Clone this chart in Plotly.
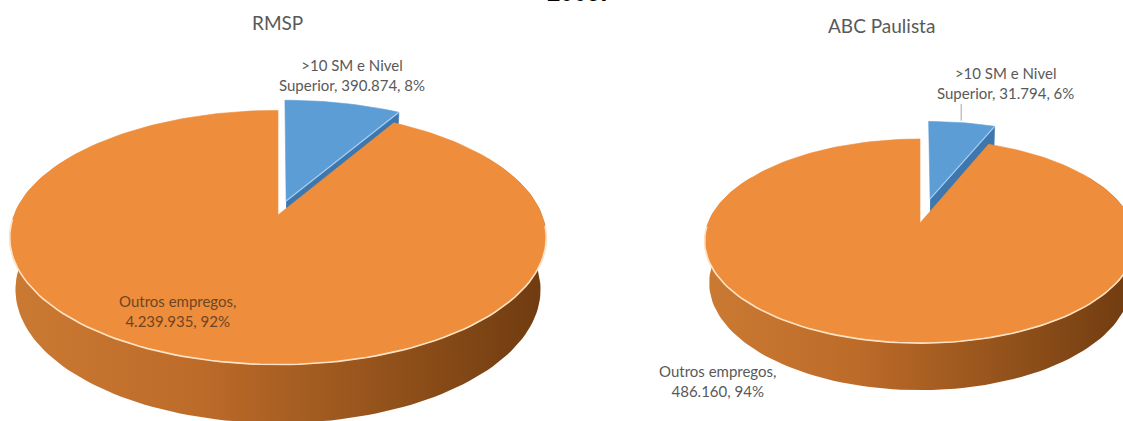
import textwrap
import numpy as np
import plotly.graph_objects as go

# ---- data -------------------------------------------------------------
categories = [">10 SM e Nivel Superior", "Outros empregos"]
rmsp_values = [390874, 4239935]
abc_values = [31794, 486160]
region_names = ["RMSP", "ABC Paulista"]
year_label = "2009."

# ---- styling ----------------------------------------------------------
W, H = 1123, 421
TOP_COLORS = ["#5D9DD6", "#EE8D3B"]
RADIAL_FACE = "#3D77AE"
SIDE_SCALE = [[0.0, "#CB7A33"], [0.35, "#BD6B29"], [0.7, "#93521B"], [1.0, "#6F3B10"]]
RIM_COLORS = ["#A8CFF3", "#FFE3C4"]
TEXT_GREY = "#595959"
INNER_TEXT = "#6E4524"

ALPHA = np.radians(27.8)   # viewing elevation
DIST = 5.0                 # camera distance (in pie radii)
DEPTH = 0.225              # pie thickness (in pie radii)

# pie placement: projected centre (px), pixel scale (radius), explode offset
PIES = [
    dict(cx=278, cy=215, k=264, explode=0.12),
    dict(cx=920, cy=223, k=212, explode=0.26),
]
TITLE_POS = [(277, 22), (881, 25)]
OUTER_LABEL_POS = [(352, 75), (1005, 83)]       # small slice labels
INNER_LABEL_POS = [(177, 311), (717, 381)]      # large slice labels
INNER_LABEL_COLOR = [INNER_TEXT, TEXT_GREY]
LEADER = [False, True]
LABEL_SIZE = 15
TITLE_SIZE = 19


def fmt_thousands(v):
    return f"{v:,}".replace(",", ".")


def project(pie, X, Z, Y):
    """Perspective projection of pie-space points (X right, Z far, Y up)."""
    c, s = np.cos(ALPHA), np.sin(ALPHA)
    ys = Y * c + Z * s
    d = Z * c - Y * s
    sc = DIST / (DIST + d)
    return pie["cx"] + pie["k"] * X * sc, pie["cy"] - pie["k"] * ys * sc


def arc(t0, t1, n=200):
    return np.linspace(t0, t1, max(3, int(n * abs(t1 - t0) / (2 * np.pi)) + 3))


fig = go.Figure()


def poly(xs, ys, color=None, gradient=None, width=0.6):
    kw = dict(x=list(xs), y=list(ys), mode="lines", fill="toself",
              hoverinfo="skip", showlegend=False)
    if gradient is not None:
        kw["fillgradient"] = dict(type="horizontal", colorscale=gradient)
        kw["line"] = dict(width=0, color="rgba(0,0,0,0)")
    else:
        kw["fillcolor"] = color
        kw["line"] = dict(width=width, color=color)
    fig.add_trace(go.Scatter(**kw))


def line(xs, ys, color, width):
    fig.add_trace(go.Scatter(x=list(xs), y=list(ys), mode="lines",
                             line=dict(color=color, width=width),
                             hoverinfo="skip", showlegend=False))


for pi, (pie, values) in enumerate(zip(PIES, [rmsp_values, abc_values])):
    total = sum(values)
    fracs = [v / total for v in values]
    # slice angles, clockwise from 12 o'clock
    bounds = np.concatenate([[0.0], np.cumsum(fracs)]) * 2 * np.pi
    small_t0, small_t1 = bounds[0], bounds[1]
    big_t0, big_t1 = bounds[1], bounds[2]

    # exploded small slice
    mid = (small_t0 + small_t1) / 2
    ex, ez = pie["explode"] * np.sin(mid), pie["explode"] * np.cos(mid)

    # its visible radial face (end edge), then its top
    t_end = small_t1
    fx = [ex, ex + np.sin(t_end), ex + np.sin(t_end), ex]
    fz = [ez, ez + np.cos(t_end), ez + np.cos(t_end), ez]
    fy = [0, 0, -DEPTH, -DEPTH]
    px, py = project(pie, np.array(fx), np.array(fz), np.array(fy))
    poly(px, py, RADIAL_FACE)

    t = arc(small_t0, small_t1)
    X = np.concatenate([[ex], ex + np.sin(t)])
    Z = np.concatenate([[ez], ez + np.cos(t)])
    px, py = project(pie, X, Z, np.zeros_like(X))
    poly(px, py, TOP_COLORS[0])
    ex_x, ex_y = project(pie, np.array([ex, ex + np.sin(t_end)]),
                         np.array([ez, ez + np.cos(t_end)]), np.zeros(2))
    line(ex_x, ex_y, RIM_COLORS[0], 1.2)

    # large slice: outer wall (front part), then top face
    ts = arc(max(big_t0, np.radians(60)), min(big_t1, np.radians(300)))
    tx, ty = project(pie, np.sin(ts), np.cos(ts), np.zeros_like(ts))
    bx, by = project(pie, np.sin(ts), np.cos(ts), np.full_like(ts, -DEPTH))
    poly(np.concatenate([tx, bx[::-1]]), np.concatenate([ty, by[::-1]]),
         gradient=SIDE_SCALE)

    t = arc(big_t0, big_t1)
    X = np.concatenate([[0.0], np.sin(t), [0.0]])
    Z = np.concatenate([[0.0], np.cos(t), [0.0]])
    px, py = project(pie, X, Z, np.zeros_like(X))
    poly(px, py, TOP_COLORS[1])

    # light rim along the front edge of the top face
    tr = arc(np.radians(95), np.radians(268))
    rx, ry = project(pie, np.sin(tr), np.cos(tr), np.zeros_like(tr))
    line(rx, ry, RIM_COLORS[1], 1.6)

    # leader line from the small-slice label down to the slice
    ox, oy = OUTER_LABEL_POS[pi]
    if LEADER[pi]:
        lx, ly = project(pie, np.array([ex + np.sin(mid) * 0.97]),
                         np.array([ez + np.cos(mid) * 0.97]), np.zeros(1))
        line([lx[0], lx[0]], [oy + 21, ly[0] - 4], "#A6A6A6", 1)

    # labels
    def label_text(name, v):
        pct = round(v / total * 100)
        return "<br>".join(textwrap.wrap(f"{name}, {fmt_thousands(v)}, {pct}%", 22))

    fig.add_annotation(x=ox, y=oy, xref="x", yref="y", showarrow=False,
                       text=label_text(categories[0], values[0]),
                       font=dict(family="Lato", size=LABEL_SIZE, color=TEXT_GREY))
    ix, iy = INNER_LABEL_POS[pi]
    fig.add_annotation(x=ix, y=iy, xref="x", yref="y", showarrow=False,
                       text=label_text(categories[1], values[1]),
                       font=dict(family="Lato", size=LABEL_SIZE,
                                 color=INNER_LABEL_COLOR[pi]))
    tx0, ty0 = TITLE_POS[pi]
    fig.add_annotation(x=tx0, y=ty0, xref="x", yref="y", showarrow=False,
                       text=region_names[pi],
                       font=dict(family="Lato", size=TITLE_SIZE, color=TEXT_GREY))

# heading, mostly above the visible page
fig.add_annotation(x=577, y=8, xref="x", yref="y", yanchor="bottom",
                   showarrow=False, text=f"<b>{year_label}</b>",
                   font=dict(family="Liberation Sans", size=24, color="#000000"))

fig.update_layout(
    width=W, height=H, autosize=False,
    margin=dict(l=0, r=0, t=0, b=0),
    paper_bgcolor="white", plot_bgcolor="white",
    showlegend=False,
    xaxis=dict(range=[0, W], visible=False, fixedrange=True),
    yaxis=dict(range=[H, 0], visible=False, fixedrange=True),
)

fig.write_html("out.html")
